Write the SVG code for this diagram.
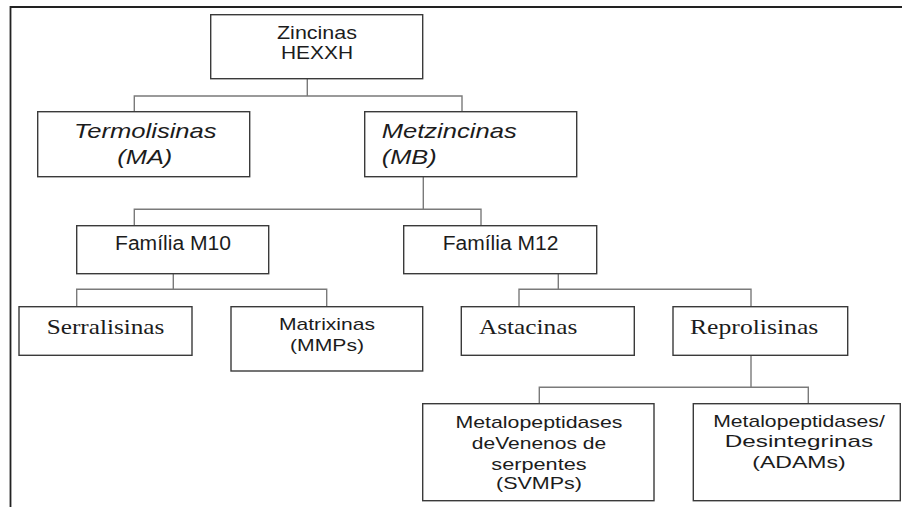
<svg xmlns="http://www.w3.org/2000/svg" width="902" height="507" viewBox="0 0 902 507">
<style>
.box{fill:#fff;stroke:#3a3a3a;stroke-width:1.4}
.con{fill:none;stroke:#7a7a7a;stroke-width:1.4}
.frame{fill:none;stroke:#222;stroke-width:1.8}
.a{font-family:"Liberation Sans",Arial,sans-serif;fill:#1c1c1c}
.t{font-family:"Liberation Serif","Times New Roman",serif;fill:#1c1c1c;font-size:22px}
.i{font-style:italic;font-size:21px}
.m{text-anchor:middle}
</style>
<rect width="902" height="507" fill="#fff"/>
<g id="frame"><path class="frame" d="M10.5,507 V7 H902"/></g>
<g id="connectors">
<path class="con" d="M307.3,79 V96 M134.3,111.7 V96 H462 V111.7"/>
<path class="con" d="M423.3,176.7 V209.3 M134.3,225.7 V209.3 H481 V225.7"/>
<path class="con" d="M173.3,273.7 V289.3 M76.7,306.7 V289.3 H326.7 V306.7"/>
<path class="con" d="M558.3,273.7 V289.3 M519,306.7 V289.3 H751 V306.7"/>
<path class="con" d="M751,355.3 V387.3 M539.3,403.7 V387.3 H808.3 V403.7"/>
</g>
<g id="zincinas">
<rect class="box" x="210.7" y="14.7" width="212" height="64"/>
<text class="a m" x="317" y="39" font-size="17.5" textLength="80" lengthAdjust="spacingAndGlyphs">Zincinas</text>
<text class="a m" x="317" y="59.3" font-size="17.5" textLength="72" lengthAdjust="spacingAndGlyphs">HEXXH</text>
</g>
<g id="termolisinas">
<rect class="box" x="37.7" y="111.7" width="212" height="65"/>
<text class="a i m" x="145.3" y="138.3" textLength="142.7" lengthAdjust="spacingAndGlyphs">Termolisinas</text>
<text class="a i m" x="144.8" y="164.3" textLength="55" lengthAdjust="spacingAndGlyphs">(MA)</text>
</g>
<g id="metzincinas">
<rect class="box" x="364.7" y="111.7" width="212" height="65"/>
<text class="a i" x="381.7" y="138.3" textLength="135" lengthAdjust="spacingAndGlyphs">Metzincinas</text>
<text class="a i" x="381.7" y="164.3" textLength="55" lengthAdjust="spacingAndGlyphs">(MB)</text>
</g>
<g id="m10">
<rect class="box" x="76.7" y="225.7" width="192" height="48"/>
<text class="a" x="115" y="250" font-size="20" textLength="116" lengthAdjust="spacingAndGlyphs">Família M10</text>
</g>
<g id="m12">
<rect class="box" x="403.7" y="225.7" width="193" height="48"/>
<text class="a" x="442.7" y="250" font-size="20" textLength="115.7" lengthAdjust="spacingAndGlyphs">Família M12</text>
</g>
<g id="serralisinas">
<rect class="box" x="19" y="306.7" width="173" height="48.6"/>
<text class="t" x="46.7" y="334" textLength="117.7" lengthAdjust="spacingAndGlyphs">Serralisinas</text>
</g>
<g id="matrixinas">
<rect class="box" x="231" y="306.7" width="191.7" height="64.3"/>
<text class="a m" x="327" y="330" font-size="17" textLength="96" lengthAdjust="spacingAndGlyphs">Matrixinas</text>
<text class="a m" x="327" y="351" font-size="17" textLength="74" lengthAdjust="spacingAndGlyphs">(MMPs)</text>
</g>
<g id="astacinas">
<rect class="box" x="461.3" y="306.7" width="173" height="48.6"/>
<text class="t" x="479" y="334" textLength="98.3" lengthAdjust="spacingAndGlyphs">Astacinas</text>
</g>
<g id="reprolisinas">
<rect class="box" x="673" y="306.7" width="174.7" height="48.6"/>
<text class="t" x="690" y="334" textLength="128.3" lengthAdjust="spacingAndGlyphs">Reprolisinas</text>
</g>
<g id="svmps">
<rect class="box" x="422.7" y="403.7" width="231.3" height="97"/>
<text class="a m" x="539" y="427.7" font-size="17" textLength="167" lengthAdjust="spacingAndGlyphs">Metalopeptidases</text>
<text class="a m" x="539" y="449" font-size="17" textLength="134.3" lengthAdjust="spacingAndGlyphs">deVenenos de</text>
<text class="a m" x="539" y="469.5" font-size="17" textLength="95.3" lengthAdjust="spacingAndGlyphs">serpentes</text>
<text class="a m" x="539" y="489" font-size="17" textLength="86" lengthAdjust="spacingAndGlyphs">(SVMPs)</text>
</g>
<g id="adams">
<rect class="box" x="693.3" y="403.7" width="207" height="97"/>
<text class="a m" x="799" y="426.7" font-size="17" textLength="171.7" lengthAdjust="spacingAndGlyphs">Metalopeptidases/</text>
<text class="a m" x="799" y="447.3" font-size="17" textLength="148.3" lengthAdjust="spacingAndGlyphs">Desintegrinas</text>
<text class="a m" x="799" y="468.3" font-size="17" textLength="93.3" lengthAdjust="spacingAndGlyphs">(ADAMs)</text>
</g>
</svg>
